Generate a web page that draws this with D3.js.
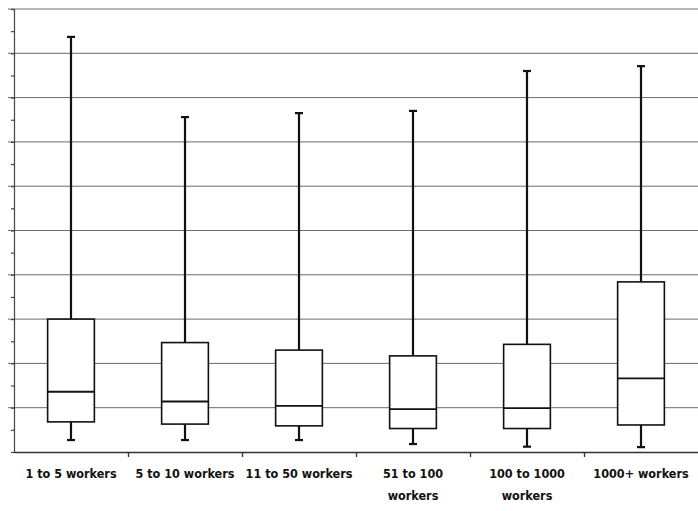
<!DOCTYPE html>
<html><head><meta charset="utf-8">
<script src="https://cdn.jsdelivr.net/npm/d3@7"></script>
<style>body{margin:0;background:#fff;} svg{display:block;}</style>
</head><body>
<svg id="c" width="698" height="511"></svg>
<script>
const categories = ["1 to 5 workers","5 to 10 workers","11 to 50 workers","51 to 100 workers","100 to 1000 workers","1000+ workers"];
const labelLines = [["1 to 5 workers"],["5 to 10 workers"],["11 to 50 workers"],["51 to 100","workers"],["100 to 1000","workers"],["1000+ workers"]];
const mins    = [0.27, 0.27, 0.27, 0.18, 0.12, 0.11];
const q1s     = [0.68, 0.63, 0.59, 0.53, 0.53, 0.61];
const medians = [1.36, 1.14, 1.04, 0.97, 0.99, 1.66];
const q3s     = [3.00, 2.47, 2.30, 2.17, 2.43, 3.84];
const maxs    = [9.37, 7.56, 7.65, 7.70, 8.60, 8.71];
const yTicks  = [1,2,3,4,5,6,7,8,9,10];

(function(){
const svg = d3.select("#c");
const pl = 14, pr = 698, pt = 9, pb = 452;
const x = d3.scaleBand().domain(categories).range([pl, pr]).paddingInner(0.59).paddingOuter(0.295);
const y = d3.scaleLinear().domain([0, 10]).range([pb, pt]);

svg.append("g").selectAll("line").data(yTicks).join("line")
  .attr("x1", pl - 6).attr("x2", pr)
  .attr("y1", d => y(d)).attr("y2", d => y(d))
  .attr("stroke", "#6a6a6a").attr("stroke-width", 1);

const yAxis = svg.append("g").attr("transform", `translate(${pl},0)`)
  .call(d3.axisLeft(y).tickValues(d3.range(0, 10.01, 0.5)).tickSize(3).tickFormat(""));
yAxis.selectAll("path,line").attr("stroke", "#444").attr("stroke-width", 1.2);

const xb = d3.scaleLinear().domain([0, 6]).range([pl, pr]);
const xAxis = svg.append("g").attr("transform", `translate(0,${pb})`)
  .call(d3.axisBottom(xb).tickValues([1,2,3,4,5]).tickSize(5).tickFormat("").tickSizeOuter(0));
xAxis.selectAll("path,line").attr("stroke", "#333").attr("stroke-width", 1.3);

const data = categories.map((c, i) => ({c, lines: labelLines[i], min: mins[i], q1: q1s[i], med: medians[i], q3: q3s[i], max: maxs[i]}));
const bw = x.bandwidth();
const g = svg.append("g").selectAll("g").data(data).join("g")
  .attr("transform", d => `translate(${x(d.c)},0)`);
const cx = bw / 2;

g.append("line").attr("x1", cx).attr("x2", cx).attr("y1", d => y(d.max)).attr("y2", d => y(d.q3))
  .attr("stroke", "#111").attr("stroke-width", 2.2);
g.append("line").attr("x1", cx).attr("x2", cx).attr("y1", d => y(d.q1)).attr("y2", d => y(d.min))
  .attr("stroke", "#111").attr("stroke-width", 2.2);
g.append("line").attr("x1", cx - 4).attr("x2", cx + 4).attr("y1", d => y(d.max)).attr("y2", d => y(d.max))
  .attr("stroke", "#111").attr("stroke-width", 2.2);
g.append("line").attr("x1", cx - 4).attr("x2", cx + 4).attr("y1", d => y(d.min)).attr("y2", d => y(d.min))
  .attr("stroke", "#111").attr("stroke-width", 2.2);

g.append("rect").attr("x", 0).attr("width", bw)
  .attr("y", d => y(d.q3)).attr("height", d => y(d.q1) - y(d.q3))
  .attr("fill", "#fff").attr("stroke", "#111").attr("stroke-width", 1.6);
g.append("line").attr("x1", 0).attr("x2", bw).attr("y1", d => y(d.med)).attr("y2", d => y(d.med))
  .attr("stroke", "#111").attr("stroke-width", 1.8);

const t = g.append("text").attr("x", cx).attr("y", 478)
  .attr("text-anchor", "middle")
  .attr("font-family", "'DejaVu Sans Condensed', 'Liberation Sans Narrow', 'Noto Sans', sans-serif")
  .attr("font-size", 12.5).attr("font-weight", "bold").attr("fill", "#111");
t.selectAll("tspan").data(d => d.lines).join("tspan")
  .attr("x", cx).attr("dy", (d, i) => i === 0 ? 0 : 22).text(d => d);
})();
</script>
</body></html>
